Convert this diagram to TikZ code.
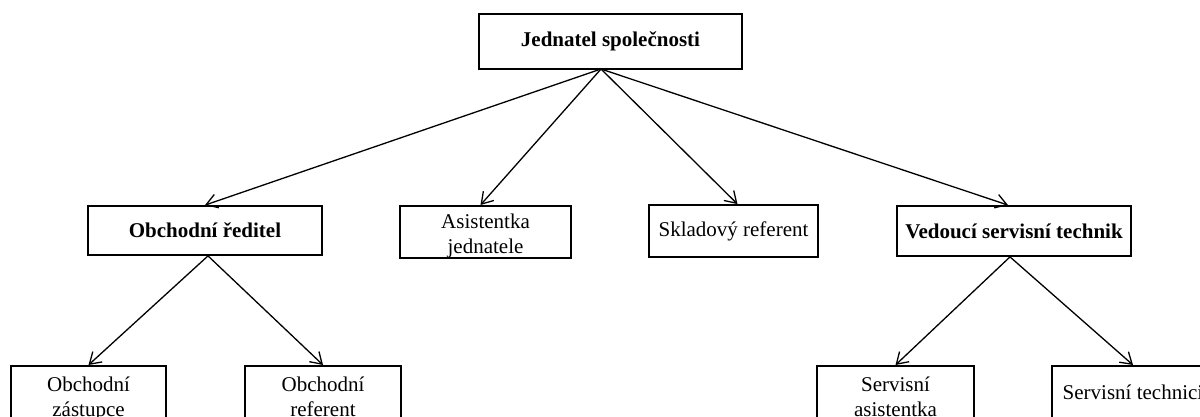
\documentclass[tikz,border=0pt]{standalone}
\usepackage{fontspec}
\setmainfont{Liberation Serif}
\usetikzlibrary{arrows.meta}
\tikzset{
  box/.style={draw, line width=1.8pt, inner sep=0pt, align=center,
    font=\fontsize{21}{25}\selectfont},
  head/.style={box, font=\fontsize{21}{25}\selectfont\bfseries},
  % boxes whose text sits at a fixed depth below the top edge;
  % the value is the distance from the top edge to the last baseline
  topbox/.style={box, anchor=north, inner ysep=0pt, text height=#1, text depth=40pt},
  link/.style={line width=1.3pt, -{Straight Barb[length=11pt,width=14pt,line width=1.3pt]}}
}
\begin{document}
\begin{tikzpicture}[x=1pt,y=-1pt]
\useasboundingbox (0,0) rectangle (1200,417);
\clip (0,0) rectangle (1200,417);
% top level
\node[head, minimum width=263, minimum height=55] (ceo) at (610.5,41.5) {Jednatel společnosti};
\coordinate (hub) at (601,69);
% second level
\node[head, minimum width=234, minimum height=49] (sales) at (205,230.5) {Obchodní ředitel};
\node[box, anchor=north, minimum width=171, text height=48pt, text depth=4pt] (assist) at (485.5,205) {Asistentka\\jednatele};
\node[box, minimum width=169, minimum height=52] (stock) at (733.5,231) {Skladový referent};
\node[head, minimum width=234, minimum height=50] (service) at (1014,231) {Vedoucí servisní technik};
% third level (boxes run past the lower edge)
\node[topbox=51pt, minimum width=155] (rep) at (88.5,365) {Obchodní\\zástupce};
\node[topbox=51pt, minimum width=156] (clerk) at (323,365) {Obchodní\\referent};
\node[topbox=51pt, minimum width=157] (sasst) at (895.5,365) {Servisní\\asistentka};
\node[topbox=34pt, minimum width=162] (techs) at (1133,365) {Servisní technici};
% connectors
\draw[link] (hub) -- (sales.north);
\draw[link] (hub) -- ([xshift=-5pt]assist.north);
\draw[link] (hub) -- ([xshift=4pt]stock.north);
\draw[link] (hub) -- ([xshift=-6pt]service.north);
\draw[link] ([xshift=3pt]sales.south) -- (rep.north);
\draw[link] ([xshift=3pt]sales.south) -- (clerk.north);
\draw[link] ([xshift=-4pt]service.south) -- (sasst.north);
\draw[link] ([xshift=-4pt]service.south) -- (techs.north);
\end{tikzpicture}
\end{document}
